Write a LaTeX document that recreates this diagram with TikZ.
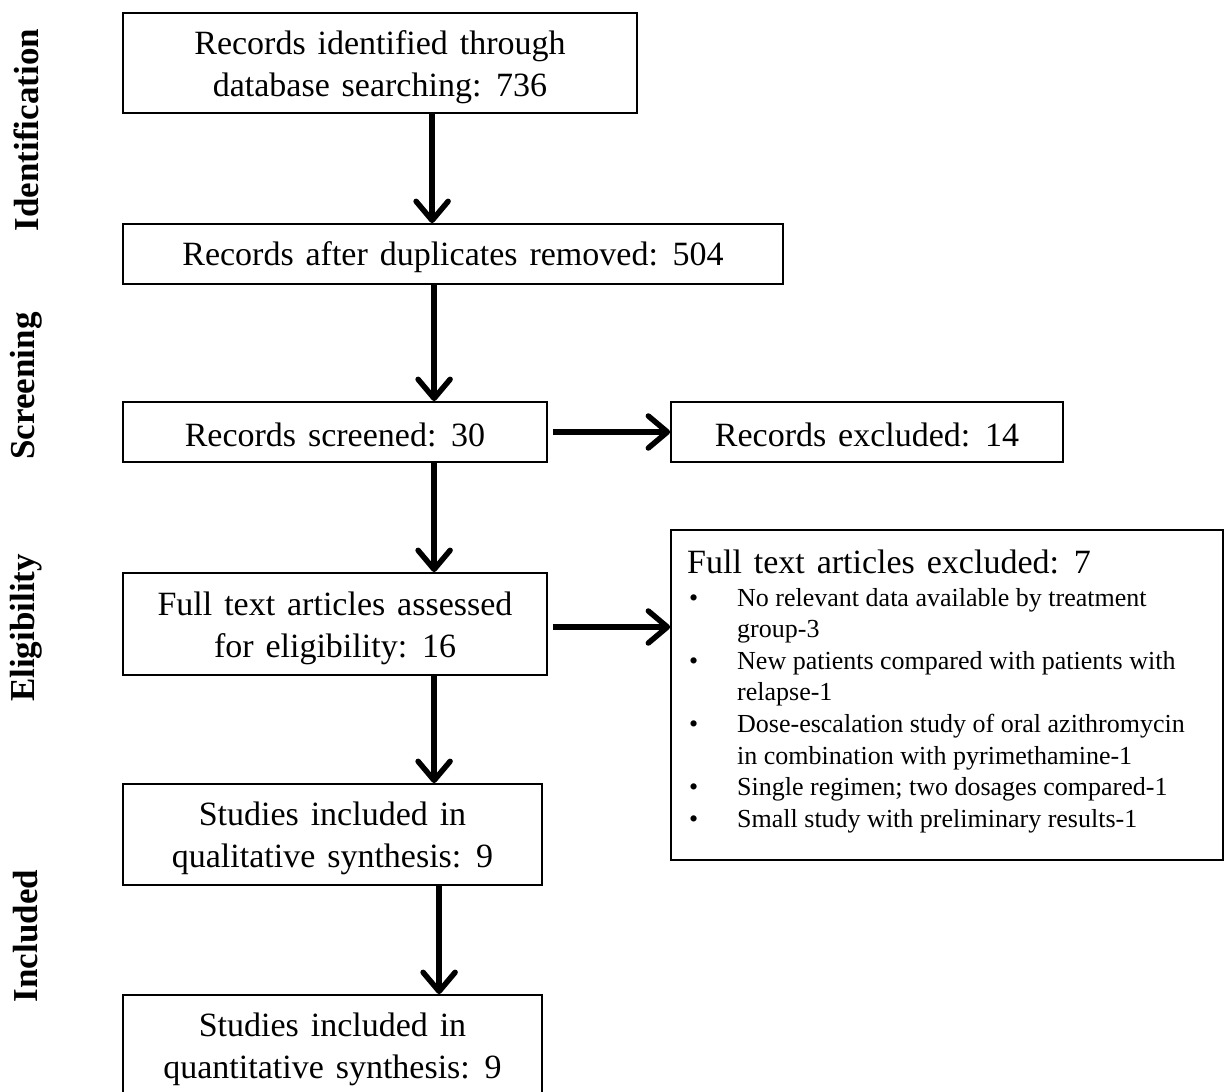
\documentclass[tikz,border=0pt]{standalone}
\usepackage{fontspec}
\setmainfont[WordSpace=1.4]{Liberation Serif}
\newfontfamily\listfont{Liberation Serif}
\usetikzlibrary{arrows.meta}
\tikzset{
  box/.style={draw, line width=1.8pt, rectangle, inner sep=0pt},
  txt/.style={align=center, inner sep=0pt, font=\fontsize{34}{42}\selectfont},
  arr/.style={line width=5.5pt, -{Straight Barb[length=19pt,width=32pt,line cap=round,line join=round]}},
  side/.style={rotate=90, font=\fontsize{35}{40}\selectfont\bfseries},
}
\begin{document}
\begin{tikzpicture}[x=1pt,y=-1pt]
\useasboundingbox (0,0) rectangle (1224,1092);
\clip (0,0) rectangle (1224,1092);
% side labels
\node[side] (sid) at (26,130) {Identification};
\node[side] (sscr) at (26,386) {Screening};
\node[side] (selg) at (26,628) {Eligibility};
\node[side] (sinc) at (26,936) {Included};
% boxes
\node[box, minimum width=514pt, minimum height=100pt] (b1) at (380,63) {};
\node[txt] (b1t) at ([yshift=-4pt]b1.center) {Records identified through\\database searching: 736};
\node[box, minimum width=660pt, minimum height=60pt] (b2) at (453,254) {};
\node[txt] (b2t) at ([yshift=-3pt]b2.center) {Records after duplicates removed: 504};
\node[box, minimum width=424pt, minimum height=60pt] (b3) at (335,432) {};
\node[txt] (b3t) at ([yshift=-3pt]b3.center) {Records screened: 30};
\node[box, minimum width=392pt, minimum height=60pt] (b4) at (867,432) {};
\node[txt] (b4t) at ([yshift=-3pt]b4.center) {Records excluded: 14};
\node[box, minimum width=424pt, minimum height=102pt] (b5) at (335,624) {};
\node[txt] (b5t) at ([yshift=-4pt]b5.center) {Full text articles assessed\\for eligibility: 16};
\node[box, minimum width=552pt, minimum height=330pt] (b6) at (947,695) {};
\node[box, minimum width=419pt, minimum height=101pt] (b7) at (332.5,834.5) {};
\node[txt] (b7t) at ([yshift=-4pt]b7.center) {Studies included in\\qualitative synthesis: 9};
\node[box, minimum width=419pt, minimum height=112pt] (b8) at (332.5,1051) {};
\node[txt] (b8t) at (332.5,1049) {Studies included in\\quantitative synthesis: 9};
% excluded list
\node[anchor=base west, inner sep=0pt, font=\fontsize{34}{42}\selectfont] (t6) at (687,573) {Full text articles excluded: 7};
\node[anchor=base west, inner sep=0pt, font=\listfont\fontsize{26}{31.6}\selectfont] (l6) at (689,606)
{\begin{tabular}[t]{@{}p{48pt}@{}l@{}}
\textbullet & No relevant data available by treatment\\
 & group-3\\
\textbullet & New patients compared with patients with\\
 & relapse-1\\
\textbullet & Dose-escalation study of oral azithromycin\\
 & in combination with pyrimethamine-1\\
\textbullet & Single regimen; two dosages compared-1\\
\textbullet & Small study with preliminary results-1
\end{tabular}};
% arrows
\draw[arr] ([xshift=310pt]b1.south west) -- ([xshift=310pt]b2.north west);
\draw[arr] ([xshift=312pt]b2.south west) -- ([xshift=312pt]b3.north west);
\draw[arr] ([xshift=312pt]b3.south west) -- ([xshift=312pt]b5.north west);
\draw[arr] ([xshift=312pt]b5.south west) -- ([xshift=312pt]b7.north west);
\draw[arr] ([xshift=317pt]b7.south west) -- ([xshift=317pt]b8.north west);
\draw[arr] ([xshift=5pt]b3.east) -- (b4.west);
\draw[arr] ([xshift=5pt,yshift=-3pt]b5.east) -- ([yshift=-3pt]b5.east -| b6.west);
\end{tikzpicture}
\end{document}
